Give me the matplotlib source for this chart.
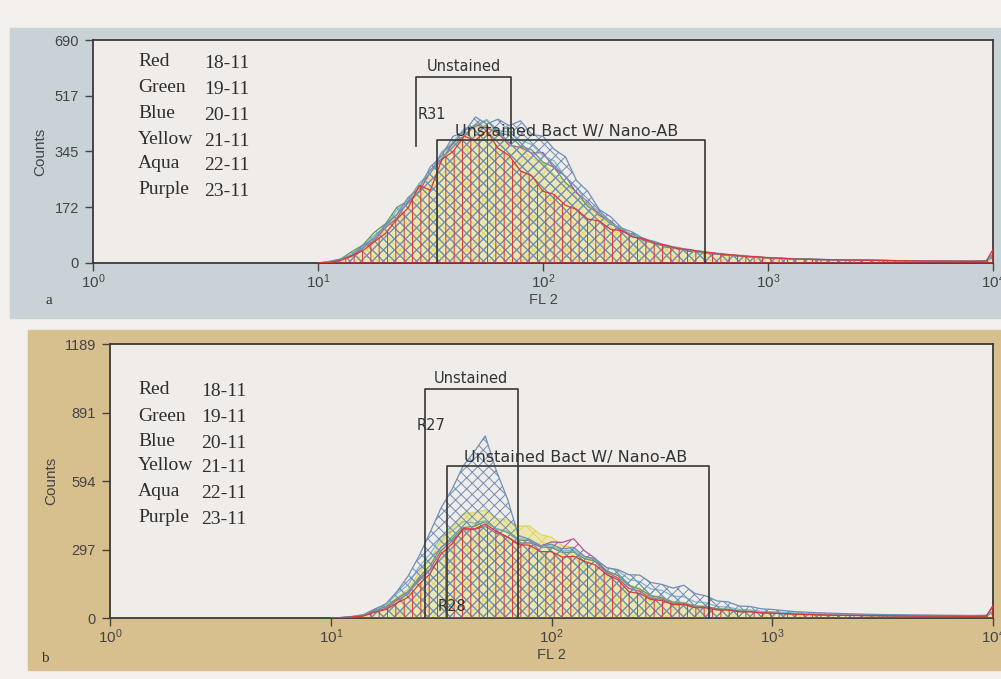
import matplotlib
matplotlib.use("Agg")
import matplotlib.pyplot as plt
from matplotlib.patches import Rectangle
from matplotlib.ticker import FixedLocator, NullLocator

plt.rcParams["font.family"] = ["Liberation Sans", "DejaVu Sans"]
plt.rcParams["mathtext.fontset"] = "custom"
plt.rcParams["mathtext.rm"] = "Liberation Sans"
plt.rcParams["hatch.linewidth"] = 0.7

# ============================
# DATA
# ============================
# FL2 channel positions (log spaced)
fl2 = [10, 11.2, 12.6, 14.1, 15.8, 17.8, 20.0, 22.4, 25.1, 28.2,
       31.6, 35.5, 39.8, 44.7, 50.1, 56.2, 63.1, 70.8, 79.4, 89.1,
       100, 112, 126, 141, 158, 178, 200, 224, 251, 282,
       316, 355, 398, 447, 501, 562, 631, 708, 794, 891,
       1000, 1259, 1585, 1995, 2512, 3162, 3981, 5012, 6310, 7943,
       9333, 10000]

samples = ["Red", "Green", "Blue", "Yellow", "Aqua", "Purple"]
dates = ["18-11", "19-11", "20-11", "21-11", "22-11", "23-11"]

# panel a counts
a_red = [0, 2, 8, 22, 38, 66, 92, 135, 170, 240, 225, 320, 345, 392, 380, 410, 355, 332, 285, 270,
         222, 212, 178, 166, 136, 130, 104, 100, 80, 75, 60, 55, 44, 42, 35, 32, 26, 25, 20, 20,
         16, 13, 11, 10, 9, 8, 7, 6, 6, 5, 6, 42]
a_green = [0, 5, 12, 35, 55, 95, 122, 172, 192, 246, 278, 342, 368, 412, 422, 442, 402, 396, 362, 350,
           312, 296, 248, 220, 175, 154, 120, 105, 82, 73, 58, 52, 43, 39, 32, 30, 25, 23, 20, 18,
           16, 13, 11, 10, 9, 8, 7, 6, 6, 5, 6, 20]
a_blue = [0, 3, 12, 24, 54, 76, 120, 150, 202, 232, 298, 332, 392, 405, 452, 430, 445, 425, 440, 398,
          392, 352, 328, 255, 222, 165, 143, 108, 95, 74, 66, 53, 48, 40, 37, 31, 29, 24, 23, 18,
          17, 14, 12, 10, 9, 8, 7, 7, 6, 6, 7, 30]
a_yellow = [0, 3, 11, 22, 49, 72, 114, 144, 195, 226, 287, 324, 378, 394, 432, 424, 406, 366, 356, 324,
            310, 274, 250, 205, 180, 142, 124, 97, 87, 68, 61, 48, 45, 36, 34, 28, 26, 21, 21, 17,
            15, 13, 11, 9, 8, 7, 7, 6, 5, 5, 6, 18]
a_aqua = [0, 4, 10, 29, 50, 86, 114, 163, 194, 246, 282, 344, 374, 416, 426, 444, 410, 405, 380, 367,
          332, 316, 266, 234, 183, 160, 123, 108, 84, 76, 59, 54, 43, 40, 33, 31, 25, 24, 20, 19,
          16, 13, 11, 10, 9, 8, 7, 6, 6, 5, 6, 22]
a_purple = [0, 2, 10, 20, 47, 69, 110, 138, 190, 222, 282, 318, 372, 392, 428, 418, 402, 364, 358, 340,
            342, 294, 268, 216, 190, 147, 130, 99, 89, 69, 62, 49, 46, 36, 34, 28, 27, 22, 21, 17,
            16, 13, 11, 10, 9, 8, 7, 6, 6, 5, 6, 25]

# panel b counts
b_red = [0, 1, 5, 9, 25, 37, 66, 90, 146, 192, 278, 322, 388, 386, 408, 376, 352, 318, 316, 288,
         288, 264, 268, 246, 230, 188, 166, 114, 106, 80, 76, 58, 58, 45, 44, 35, 35, 27, 27, 22,
         21, 17, 14, 12, 11, 10, 9, 8, 8, 7, 8, 55]
b_green = [0, 2, 6, 12, 33, 49, 85, 115, 176, 228, 308, 342, 392, 398, 418, 388, 372, 338, 336, 308,
           306, 284, 286, 258, 246, 204, 184, 140, 125, 96, 88, 69, 65, 52, 50, 40, 38, 31, 29, 24,
           22, 18, 15, 13, 11, 10, 9, 8, 8, 7, 8, 30]
b_blue = [0, 2, 7, 14, 38, 62, 116, 182, 268, 372, 478, 560, 660, 722, 790, 640, 518, 358, 342, 314,
          320, 300, 306, 268, 256, 218, 210, 188, 186, 154, 146, 130, 142, 106, 96, 74, 70, 52, 50, 40,
          37, 28, 23, 20, 17, 15, 14, 13, 12, 11, 12, 45]
b_yellow = [0, 2, 6, 13, 35, 52, 90, 125, 196, 254, 338, 392, 452, 458, 468, 432, 426, 398, 400, 362,
            350, 314, 306, 268, 250, 206, 186, 144, 130, 99, 92, 71, 68, 53, 51, 40, 39, 31, 30, 24,
            22, 18, 15, 13, 11, 10, 9, 8, 8, 7, 8, 25]
b_aqua = [0, 2, 7, 15, 39, 58, 106, 144, 222, 278, 352, 378, 418, 412, 422, 388, 376, 344, 340, 314,
          312, 292, 294, 266, 255, 218, 206, 168, 158, 126, 120, 95, 92, 70, 66, 50, 47, 37, 35, 29,
          27, 22, 18, 15, 13, 12, 11, 10, 9, 9, 10, 30]
b_purple = [0, 1, 5, 10, 28, 42, 78, 104, 168, 212, 292, 334, 382, 384, 398, 368, 352, 324, 326, 312,
            330, 328, 344, 292, 258, 198, 174, 128, 116, 86, 82, 62, 61, 47, 46, 37, 35, 28, 28, 23,
            21, 17, 14, 12, 11, 10, 9, 8, 8, 7, 8, 28]

a_yticks = [0, 172, 345, 517, 690]
b_yticks = [0, 297, 594, 891, 1189]

# gates: (x0, x1, y_top, y_left_bottom, y_right_bottom)
a_gate_unst = (27.3, 72.1, 575, 362, 370)
a_gate_nano = (33.8, 525, 381, 0, 0)
b_gate_unst = (26.6, 70.2, 994, 0, 0)
b_gate_nano = (33.5, 519, 660, 0, 0)

colors = {"Red": "#d8383a", "Green": "#5e9a58", "Blue": "#6f8fb5",
          "Yellow": "#d6cf3a", "Aqua": "#7fb7c9", "Purple": "#b0529a"}
hatches = {"Red": "||", "Green": "\\\\\\", "Blue": "xxx",
           "Yellow": "xx", "Aqua": "xxx", "Purple": "///"}


def draw_panel(ax, series, yticks, gate_unst, gate_nano, r_labels):
    ax.set_facecolor("#f0ece9")
    ax.set_xscale("log")
    ax.set_xlim(1, 10000)
    ax.set_ylim(0, yticks[-1])

    # draw order: yellow underneath, red on top
    order = ["Yellow", "Green", "Purple", "Aqua", "Blue", "Red"]
    for name in order:
        vals = series[name]
        c = colors[name]
        if name == "Yellow":
            ax.fill_between(fl2, 0, vals, facecolor="#ebe69a", alpha=0.7,
                            edgecolor=c, hatch=hatches[name], linewidth=0.9, zorder=2)
        else:
            ax.fill_between(fl2, 0, vals, facecolor="none", edgecolor=c,
                            hatch=hatches[name], linewidth=0.9,
                            zorder=3 if name == "Red" else 2)

    gc = "#363636"
    x0, x1, yt, yl, yr = gate_unst
    ax.plot([x0, x0, x1, x1], [yl, yt, yt, yr], color=gc, lw=1.2, zorder=5)
    ax.text((x0 * x1) ** 0.5, yt + yticks[-1] * 0.012, "Unstained", ha="center",
            va="bottom", fontsize=10.5, family="DejaVu Sans", color="#333", zorder=6)
    x0, x1, yt, yl, yr = gate_nano
    ax.plot([x0, x0, x1, x1], [yl, yt, yt, yr], color=gc, lw=1.2, zorder=5)
    ax.text(128, yt + yticks[-1] * 0.004, "Unstained Bact W/ Nano-AB", ha="center",
            va="bottom", fontsize=11.5, family="DejaVu Sans", color="#333", zorder=6)

    for x, y, s in r_labels:
        ax.text(x, y, s, fontsize=10.5, family="DejaVu Sans", color="#333",
                va="center", zorder=6)

    ax.xaxis.set_major_locator(FixedLocator([1, 10, 100, 1000, 10000]))
    ax.xaxis.set_minor_locator(NullLocator())
    ax.set_yticks(yticks)
    ax.set_yticklabels([str(t) for t in yticks])
    ax.tick_params(axis="y", direction="out", length=6, width=1, color="#444",
                   labelsize=10.5, labelcolor="#444", pad=4)
    ax.tick_params(axis="x", direction="out", length=6, width=1, color="#444",
                   labelsize=11, labelcolor="#444", pad=1)
    for s in ax.spines.values():
        s.set_color("#3a3a3a")
        s.set_linewidth(1.3)
    ax.set_ylabel("Counts", fontsize=11, color="#444", labelpad=5)
    ax.set_xlabel("FL 2", fontsize=10.5, color="#444", labelpad=1)


W, H = 1001, 679
fig = plt.figure(figsize=(W / 100, H / 100), dpi=100)
fig.patch.set_facecolor("#f2efec")

# coloured page bands behind each panel
fig.add_artist(Rectangle((10 / W, 1 - 318 / H), (W - 10) / W, 290 / H,
                         transform=fig.transFigure, color="#c9d2d6", zorder=0))
fig.add_artist(Rectangle((28 / W, 1 - 670 / H), (W - 28) / W, 340 / H,
                         transform=fig.transFigure, color="#d8bf8e", zorder=0))

ax_a = fig.add_axes([93 / W, 1 - 263 / H, 900 / W, 223 / H])
ax_b = fig.add_axes([110 / W, 1 - 618 / H, 883 / W, 274 / H])

series_a = dict(zip(samples, [a_red, a_green, a_blue, a_yellow, a_aqua, a_purple]))
series_b = dict(zip(samples, [b_red, b_green, b_blue, b_yellow, b_aqua, b_purple]))

draw_panel(ax_a, series_a, a_yticks, a_gate_unst, a_gate_nano,
           [(27.6, 458, "R31")])
draw_panel(ax_b, series_b, b_yticks, b_gate_unst, b_gate_nano,
           [(24.6, 837, "R27"), (30.5, 50, "R28")])

# sample legends (serif, like the original)
a_rows = [62, 88, 113, 139, 164, 190]
b_rows = [390, 416, 441, 466, 492, 517]
for rows, xd in [(a_rows, 204), (b_rows, 201)]:
    for y, s, d in zip(rows, samples, dates):
        fig.text(138 / W, 1 - y / H, s, fontsize=14, family="Liberation Serif",
                 color="#2e2e2e", va="center")
        fig.text(xd / W, 1 - (y + 2) / H, d, fontsize=14, family="Liberation Serif",
                 color="#2e2e2e", va="center")

fig.text(49 / W, 1 - 300 / H, "a", fontsize=11, family="Liberation Serif",
         color="#333", ha="center", va="center")
fig.text(45 / W, 1 - 659 / H, "b", fontsize=11, family="Liberation Serif",
         color="#333", ha="center", va="center")

fig.savefig("out.png", dpi=100, facecolor=fig.get_facecolor())
